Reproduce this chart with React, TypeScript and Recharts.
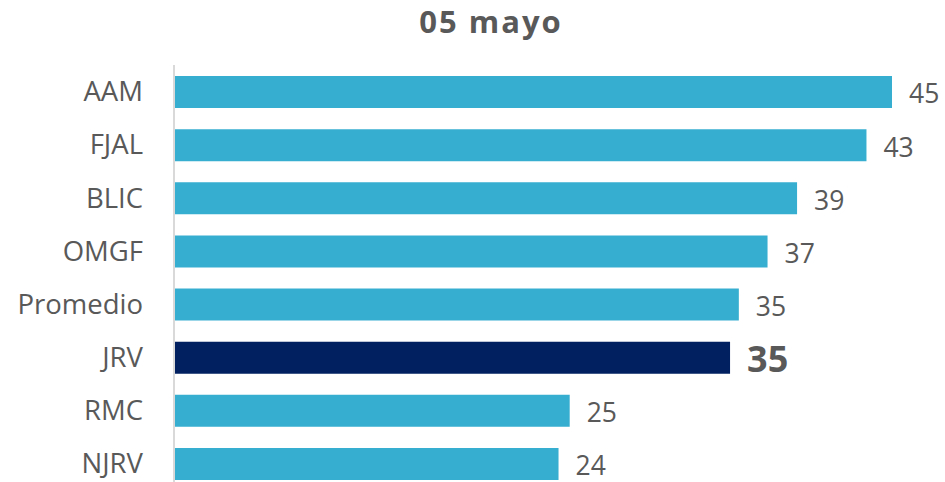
import React from 'react'
import { BarChart, Bar, XAxis, YAxis, Cell, LabelList } from 'recharts'

const categories = ['AAM', 'FJAL', 'BLIC', 'OMGF', 'Promedio', 'JRV', 'RMC', 'NJRV']
const values = [45, 43.4, 39.05, 37.2, 35.4, 34.85, 24.8, 24.1]
const highlighted = 'JRV'
const title = '05 mayo'

const data = categories.map((name, i) => ({ name, value: values[i] }))

const FONT = '"Open Sans", "Noto Sans", sans-serif'
const LIGHT = '#36AECF'
const DARK = '#002060'
const TEXT = '#595959'

const ValueLabel = (props: any) => {
  const { x, y, width, height, value, index } = props
  const isHi = categories[index] === highlighted
  return (
    <text
      x={Number(x) + Number(width) + 17}
      y={Number(y) + Number(height) / 2 + 2}
      dy="0.355em"
      fill={TEXT}
      fontFamily={FONT}
      fontSize={isHi ? 36 : 26.5}
      fontWeight={isHi ? 700 : 400}
      textAnchor="start"
    >
      {Math.round(value)}
    </text>
  )
}

export default function App() {
  return (
    <div
      style={{
        position: 'fixed',
        left: 0,
        top: 0,
        width: 945,
        height: 482,
        overflow: 'hidden',
        background: '#fff',
      }}
    >
      <svg width={945} height={60} style={{ position: 'absolute', left: 0, top: 0 }}>
        <text
          x={491}
          y={33}
          textAnchor="middle"
          fill={TEXT}
          fontFamily={FONT}
          fontSize={31}
          fontWeight={700}
          letterSpacing={2}
        >
          {title}
        </text>
      </svg>
      <div style={{ position: 'absolute', left: 0, top: 0 }}>
        <BarChart
          width={945}
          height={500}
          data={data}
          layout="vertical"
          margin={{ top: 65, right: 53, bottom: 10, left: 0 }}
        >
          <XAxis type="number" domain={[0, 45]} hide />
          <YAxis
            type="category"
            dataKey="name"
            width={174}
            axisLine={{ stroke: '#d9d9d9', strokeWidth: 2 }}
            tickLine={false}
            tickSize={0}
            tickMargin={31}
            tick={{ fill: TEXT, fontSize: 27.5, fontFamily: FONT }}
            interval={0}
          />
          <Bar dataKey="value" barSize={32} isAnimationActive={false}>
            {data.map((d) => (
              <Cell key={d.name} fill={d.name === highlighted ? DARK : LIGHT} />
            ))}
            <LabelList dataKey="value" content={ValueLabel} />
          </Bar>
        </BarChart>
      </div>
    </div>
  )
}
